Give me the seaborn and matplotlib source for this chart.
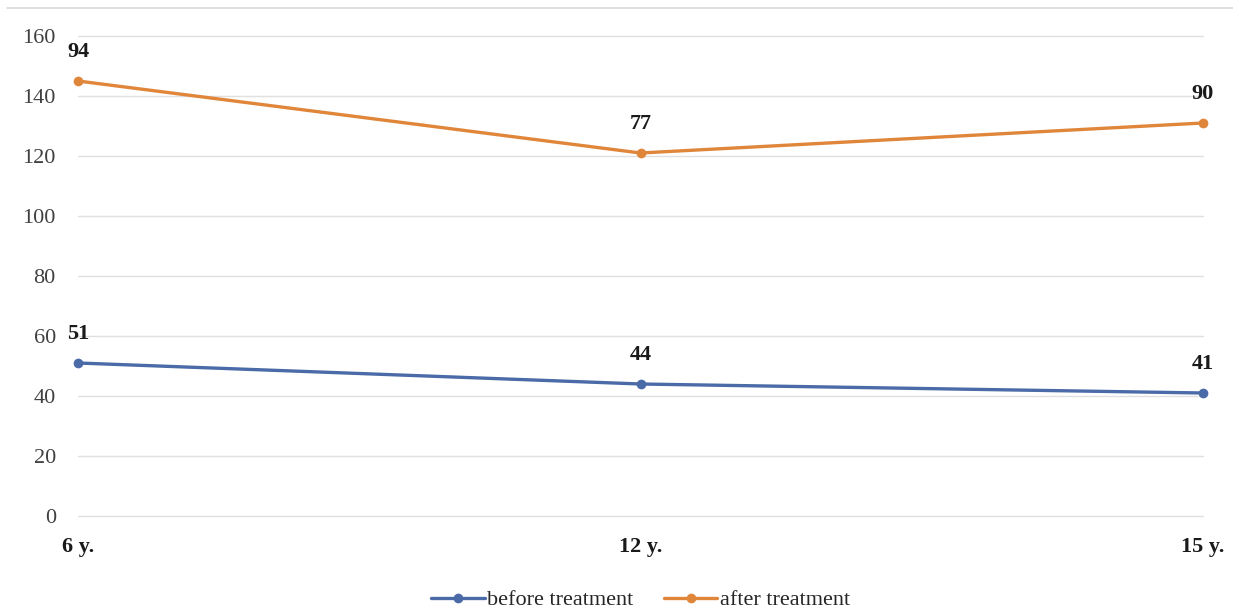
import pandas as pd
import matplotlib.pyplot as plt
import seaborn as sns
from matplotlib.lines import Line2D

# Chart values (stacked line chart: the "after" line sits on top of "before")
ages = ['6 y.', '12 y.', '15 y.']
before = [51, 44, 41]
after = [94, 77, 90]

series_names = ['before treatment', 'after treatment']
colors = ['#4a6aa8', '#e0863a']

# Stacked values for drawing, labels keep the raw values
stacked_after = [b + a for b, a in zip(before, after)]
df = pd.DataFrame({
    'Age': ages * 2,
    'Value': before + stacked_after,
    'Label': before + after,
    'Series': [series_names[0]] * 3 + [series_names[1]] * 3,
})

sns.set_theme(style='white')
plt.rcParams['font.family'] = ['Liberation Serif', 'DejaVu Serif']

fig = plt.figure(figsize=(12.33, 6.13), dpi=100)
ax = fig.add_axes([78 / 1233, 1 - 516 / 613, (1203 - 78) / 1233, (516 - 36) / 613])

sns.lineplot(data=df, x='Age', y='Value', hue='Series', palette=colors, marker='o',
             markersize=7, markeredgewidth=0, linewidth=2.4, sort=False, ax=ax)
for line in ax.lines:
    line.set_clip_on(False)

# Data labels above each point
for _, row in df.iterrows():
    ax.annotate(str(row['Label']), (ages.index(row['Age']), row['Value']),
                xytext=(0, 21), textcoords='offset points', ha='center', va='center',
                fontsize=16, fontweight='bold', color='#1a1a1a')

ax.set_xlim(0, 2)
ax.set_ylim(0, 160)
ax.set_yticks(range(0, 161, 20))
ax.set_axisbelow(True)
ax.yaxis.grid(True, color='#e0e0e0', linewidth=1.0)
for gl in ax.get_ygridlines():
    gl.set_clip_on(False)
ax.xaxis.grid(False)
for s in ax.spines.values():
    s.set_visible(False)
ax.set_xlabel('')
ax.set_ylabel('')
ax.tick_params(axis='y', length=0, pad=16, labelsize=16, labelcolor='#404040')
ax.tick_params(axis='x', length=0, pad=15, labelsize=16)
for t in ax.get_xticklabels():
    t.set_fontweight('bold')
    t.set_color('#1a1a1a')

ax.legend(loc='center', bbox_to_anchor=(0.5, -0.175), ncol=2, frameon=False,
          fontsize=16, handlelength=2.4, handletextpad=0.1, columnspacing=1.4)

# light frame line across the top of the chart area
fig.add_artist(Line2D([7 / 1233, 1], [1 - 8 / 613, 1 - 8 / 613], color='#d9d9d9', linewidth=1.2))

fig.savefig('out.png', dpi=100)
